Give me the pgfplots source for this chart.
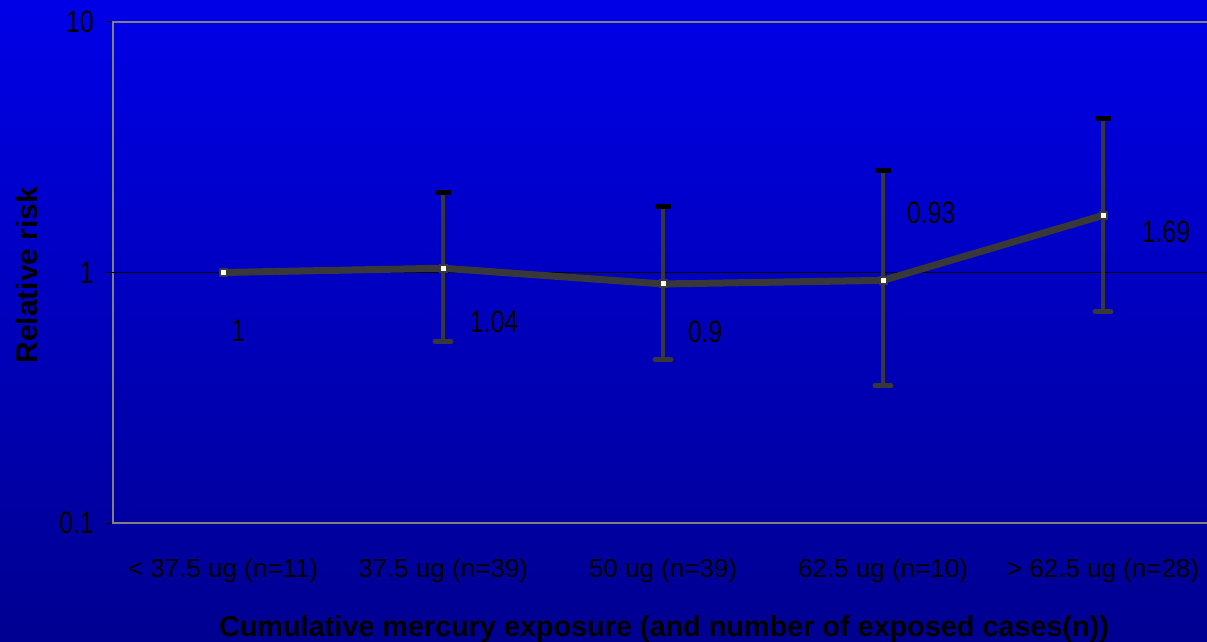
\documentclass[border=0pt]{standalone}
\usepackage{fontspec}
\setmainfont{Liberation Sans}
\newfontfamily\cond[FakeStretch=0.8]{Liberation Sans}
\usepackage{pgfplots}
\pgfplotsset{compat=1.18}
\definecolor{bgtop}{HTML}{0000E8}
\definecolor{bgbot}{HTML}{000090}
\definecolor{ser}{HTML}{383838}
\definecolor{axgray}{HTML}{808080}

\pgfplotstableread{
x y
1 1
2 1.04
3 0.9
4 0.93
5 1.69
}\rr
\pgfplotstableread{
x up lo
2 2.09 0.53
3 1.84 0.45
4 2.56 0.353
5 4.13 0.70
}\ci

\begin{document}
\begin{tikzpicture}
\useasboundingbox (0,0) rectangle (603.5bp,321bp);
\shade[top color=bgtop, bottom color=bgbot] (0,0) rectangle (603.5bp,321bp);
\begin{axis}[
  at={(56.5bp,59.5bp)}, anchor=south west,
  scale only axis, width=550bp, height=250.5bp,
  xmin=0.5, xmax=5.5, ymode=log, ymin=0.1, ymax=10,
  axis line style={draw=axgray, line width=1bp},
  xtick={1,2,3,4,5},
  xticklabels={{< 37.5 ug (n=11)},{37.5 ug (n=39)},{50 ug (n=39)},{62.5 ug (n=10)},{> 62.5 ug (n=28)}},
  xtick style={draw=none},
  xticklabel style={font=\fontsize{13bp}{13bp}\selectfont, anchor=base, yshift=-24bp, inner sep=0pt},
  ytick={0.1,1,10}, yticklabels={0.1,1,10},
  yminorticks=false,
  ytick pos=left, tick align=outside, major tick length=3.5bp,
  ytick style={black, line width=0.5bp},
  yticklabel style={font=\cond\fontsize{15.5bp}{15.5bp}\selectfont, anchor=east, inner sep=0pt, xshift=-6bp},
  extra y ticks={1}, extra y tick labels={},
  extra y tick style={grid=major, major grid style={black, line width=0.5bp}},
  /pgf/number format/assume math mode=true,
  clip=false,
]
\draw[black, line width=0.5bp] (axis cs:1.5,1) -- (axis cs:1.5,0.929);
\draw[black, line width=0.5bp] (axis cs:2.5,1) -- (axis cs:2.5,0.929);
\draw[black, line width=0.5bp] (axis cs:3.5,1) -- (axis cs:3.5,0.929);
\draw[black, line width=0.5bp] (axis cs:4.5,1) -- (axis cs:4.5,0.929);
\addplot[ser, line width=3.5bp, line join=round, no marks] table[x=x,y=y] {\rr};
\addplot[ser, line width=2bp] coordinates {(2,0.53) (2,2.09)};
\addplot[ser, line width=2bp] coordinates {(3,0.45) (3,1.84)};
\addplot[ser, line width=2bp] coordinates {(4,0.353) (4,2.56)};
\addplot[ser, line width=2bp] coordinates {(5,0.70) (5,4.13)};
\addplot[only marks, mark=-, mark size=4bp, mark options={line width=2.5bp, black}] table[x=x,y=up] {\ci};
\addplot[only marks, mark=-, mark size=4bp, mark options={line width=2.5bp, ser, line cap=round}] table[x=x,y=lo] {\ci};
\addplot[only marks, mark=square*, mark size=1.75bp, mark options={fill=white, draw=ser, line width=1bp}] table[x=x,y=y] {\rr};
\begin{scope}[font=\cond\fontsize{15.5bp}{15.5bp}\selectfont, inner sep=0pt]
\node at (axis cs:1.068,0.584) {1};
\node at (axis cs:2.232,0.634) {1.04};
\node at (axis cs:3.191,0.579) {0.9};
\node at (axis cs:4.218,1.727) {0.93};
\node at (axis cs:5.286,1.451) {1.69};
\end{scope}
\end{axis}
\node[anchor=base, inner sep=0pt, font=\bfseries\fontsize{14.4bp}{14.4bp}\selectfont] at (332bp,3bp) {Cumulative mercury exposure (and number of exposed cases(n))};
\node[rotate=90, anchor=base, inner sep=0pt, font=\bfseries\fontsize{15bp}{15bp}\selectfont] at (18.5bp,183.5bp) {Relative risk};
\end{tikzpicture}
\end{document}
